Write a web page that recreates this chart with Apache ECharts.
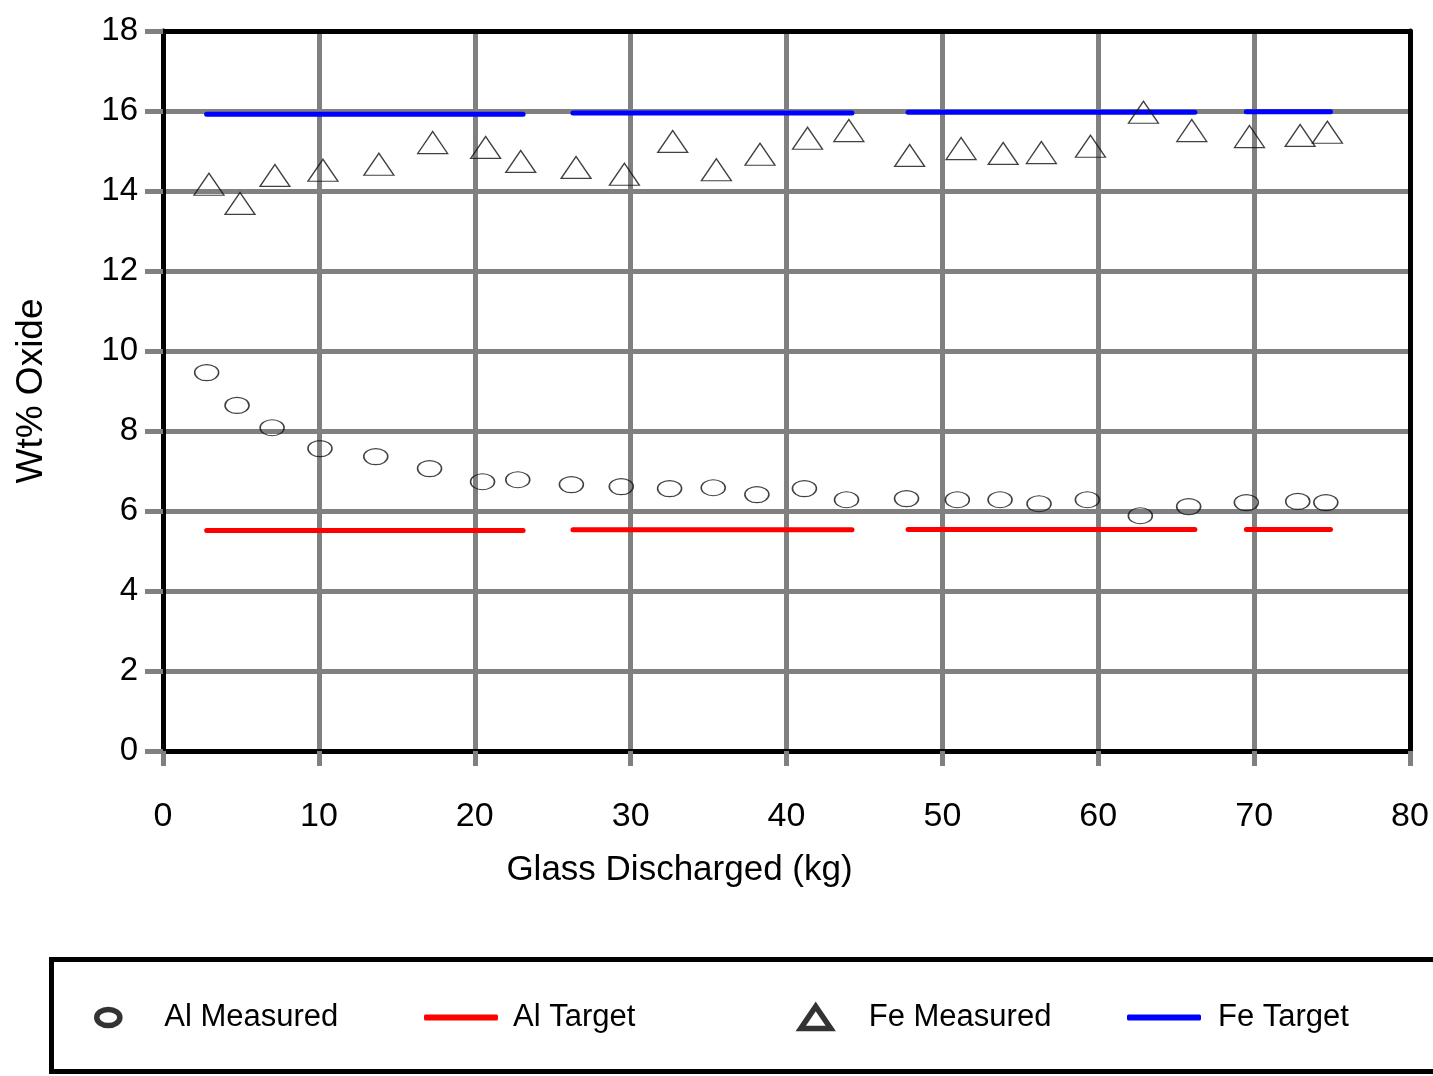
<!DOCTYPE html>
<html>
<head>
<meta charset="utf-8">
<title>Wt% Oxide vs Glass Discharged</title>
<script src="https://cdn.jsdelivr.net/npm/echarts@6/dist/echarts.min.js"></script>
<style>
  html, body { margin: 0; padding: 0; background: #fff; }
  #chart { width: 1433px; height: 1076px; }
</style>
</head>
<body>
<div id="chart"></div>
<script>
// Al measured (wt% oxide) against glass discharged (kg)
const alX = [2.8, 4.75, 7.0, 10.07, 13.65, 17.1, 20.5, 22.76, 26.2, 29.4,
             32.5, 35.3, 38.1, 41.15, 43.85, 47.7, 50.96, 53.7, 56.2, 59.3,
             62.7, 65.8, 69.5, 72.8, 74.6];
const alY = [9.46, 8.64, 8.08, 7.56, 7.36, 7.06, 6.73, 6.78, 6.66, 6.61,
             6.56, 6.58, 6.41, 6.56, 6.28, 6.31, 6.28, 6.28, 6.18, 6.28,
             5.88, 6.11, 6.21, 6.24, 6.21];

// Fe measured (wt% oxide) against glass discharged (kg)
const feX = [2.95, 4.94, 7.18, 10.26, 13.85, 17.3, 20.7, 22.95, 26.5, 29.6,
             32.7, 35.5, 38.3, 41.35, 44.0, 47.9, 51.2, 53.9, 56.35, 59.5,
             62.9, 66.0, 69.7, 72.95, 74.7];
const feY = [14.17, 13.69, 14.39, 14.52, 14.67, 15.21, 15.09, 14.74, 14.59, 14.42,
             15.24, 14.53, 14.92, 15.32, 15.51, 14.89, 15.06, 14.94, 14.96, 15.12,
             15.97, 15.51, 15.36, 15.39, 15.47];

// Target levels, one value per batch segment
const segStart = [2.8, 26.3, 47.8, 69.5];
const segEnd = [23.1, 44.2, 66.2, 74.9];
const alTarget = [5.51, 5.53, 5.54, 5.54];
const feTarget = [15.92, 15.95, 15.97, 15.98];

// Axis ticks
const xTicks = [0, 10, 20, 30, 40, 50, 60, 70, 80];
const yTicks = [0, 2, 4, 6, 8, 10, 12, 14, 16, 18];

const FONT = '"Liberation Sans", Arial, sans-serif';
const GRID_GRAY = '#808080';

function zip(xs, ys) { return xs.map((x, i) => [x, ys[i]]); }

function targetSeries(name, levels, color) {
  return segStart.map((s, i) => ({
    name: name,
    type: 'line',
    xAxisIndex: 0,
    yAxisIndex: 0,
    symbol: 'none',
    silent: true,
    z: 3,
    lineStyle: { color: color, width: 5, cap: 'round' },
    itemStyle: { color: color },
    data: [[s, levels[i]], [segEnd[i], levels[i]]]
  }));
}

const chart = echarts.init(document.getElementById('chart'), null, { renderer: 'canvas' });

const legendText = (pad) => ({
  color: '#000', fontFamily: FONT, fontSize: 31, padding: [0, 0, 0, pad]
});

const option = {
  backgroundColor: '#fff',
  animation: false,
  grid: { left: 163, right: 23, top: 31, bottom: 325, containLabel: false },
  xAxis: [{
    type: 'value', position: 'bottom',
    min: xTicks[0], max: xTicks[xTicks.length - 1], interval: 10,
    name: 'Glass Discharged (kg)', nameLocation: 'middle', nameGap: 102,
    nameTextStyle: { color: '#000', fontFamily: FONT, fontSize: 35, padding: [0, 214, 0, 0] },
    axisLine: { show: true, onZero: false, lineStyle: { color: '#000', width: 5 } },
    axisTick: { show: true, inside: false, length: 15, lineStyle: { color: GRID_GRAY, width: 5 } },
    axisLabel: { color: '#000', fontFamily: FONT, fontSize: 34, margin: 49 },
    splitLine: { show: true, showMinLine: false, showMaxLine: false, lineStyle: { color: GRID_GRAY, width: 5 } }
  }, {
    type: 'value', position: 'top',
    min: xTicks[0], max: xTicks[xTicks.length - 1], interval: 10,
    axisLine: { show: true, onZero: false, lineStyle: { color: '#000', width: 5 } },
    axisTick: { show: false }, axisLabel: { show: false }, splitLine: { show: false }
  }],
  yAxis: [{
    type: 'value', position: 'left',
    min: yTicks[0], max: yTicks[yTicks.length - 1], interval: 2,
    name: 'Wt% Oxide', nameLocation: 'middle', nameGap: 113, nameRotate: 90,
    nameTextStyle: { color: '#000', fontFamily: FONT, fontSize: 37 },
    axisLine: { show: true, onZero: false, lineStyle: { color: '#000', width: 5 } },
    axisTick: { show: true, inside: false, length: 18, lineStyle: { color: GRID_GRAY, width: 5 } },
    axisLabel: { color: '#000', fontFamily: FONT, fontSize: 33, margin: 25 },
    splitLine: { show: true, showMinLine: false, showMaxLine: false, lineStyle: { color: GRID_GRAY, width: 5 } }
  }, {
    type: 'value', position: 'right',
    min: yTicks[0], max: yTicks[yTicks.length - 1], interval: 2,
    axisLine: { show: true, onZero: false, lineStyle: { color: '#000', width: 5 } },
    axisTick: { show: false }, axisLabel: { show: false }, splitLine: { show: false }
  }],
  graphic: [{
    type: 'rect', left: 49, top: 957, z: -1,
    shape: { width: 1420, height: 112 },
    style: { fill: '#fff', stroke: '#000', lineWidth: 5 }
  }],
  legend: [{
    left: 94, top: 1002, padding: 0, selectedMode: false,
    itemWidth: 24, itemHeight: 16,
    data: [{ name: 'Al Measured',
      icon: 'path://M0,9A13,9 0 1,0 26,9A13,9 0 1,0 0,9Z',
      itemStyle: { color: '#fff', borderColor: '#000', borderWidth: 5.5 } }],
    textStyle: legendText(39)
  }, {
    left: 424, top: 1002, padding: 0, selectedMode: false,
    itemWidth: 74, itemHeight: 6,
    data: [{ name: 'Al Target', icon: 'roundRect',
      itemStyle: { color: '#ff0000', borderWidth: 0 } }],
    textStyle: legendText(10)
  }, {
    left: 798, top: 1002, padding: 0, selectedMode: false,
    itemWidth: 30, itemHeight: 22,
    data: [{ name: 'Fe Measured', icon: 'triangle',
      itemStyle: { color: '#fff', borderColor: '#000', borderWidth: 5.5 } }],
    textStyle: legendText(33)
  }, {
    left: 1127, top: 1002, padding: 0, selectedMode: false,
    itemWidth: 74, itemHeight: 6,
    data: [{ name: 'Fe Target', icon: 'roundRect',
      itemStyle: { color: '#0000ff', borderWidth: 0 } }],
    textStyle: legendText(12)
  }],
  series: [
    {
      name: 'Al Measured', type: 'scatter', xAxisIndex: 0, yAxisIndex: 0,
      symbol: 'circle', symbolSize: [24, 16], z: 4,
      itemStyle: { color: 'rgba(0,0,0,0)', borderColor: '#111', borderWidth: 1.3 },
      data: zip(alX, alY)
    },
    ...targetSeries('Al Target', alTarget, '#ff0000'),
    {
      name: 'Fe Measured', type: 'scatter', xAxisIndex: 0, yAxisIndex: 0,
      symbol: 'triangle', symbolSize: [30, 22], z: 4,
      itemStyle: { color: 'rgba(0,0,0,0)', borderColor: '#111', borderWidth: 1.3 },
      data: zip(feX, feY)
    },
    ...targetSeries('Fe Target', feTarget, '#0000ff')
  ]
};

chart.setOption(option);
</script>
</body>
</html>
